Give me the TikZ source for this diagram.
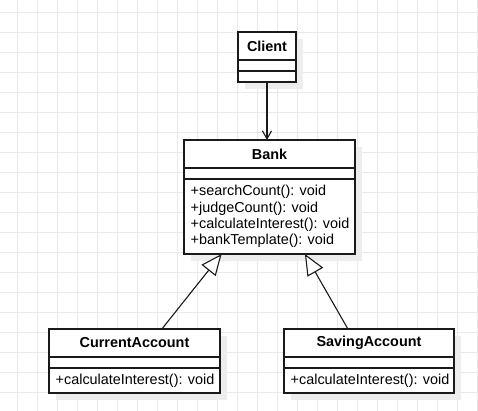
\documentclass[tikz,border=0pt]{standalone}
\usepackage{fontspec}
\setmainfont{Liberation Sans}
\usetikzlibrary{arrows.meta,calc,shadows}
\definecolor{gridgray}{HTML}{E9E9E9}
\definecolor{shadowgray}{HTML}{EDEDED}
\definecolor{linegray}{HTML}{1A1A1A}
\tikzset{
  gridline/.style={draw=gridgray,line width=0.8pt},
  cbox/.style={draw=linegray,fill=white,line width=1.2pt,inner sep=0pt,outer sep=0pt,anchor=north west,
    drop shadow={shadow xshift=7pt,shadow yshift=-7pt,fill=shadowgray,opacity=1}},
  cname/.style={cbox,minimum height=28pt,font=\bfseries\fontsize{14.4}{16.4}\selectfont},
  cpart/.style={cbox,minimum height=11pt},
  ops/.style={anchor=west,inner sep=0pt,align=left,font=\fontsize{14.4}{16.3}\selectfont},
  assoc/.style={-{Straight Barb[length=8pt,width=9pt]},draw=linegray,line width=1.1pt},
  inherit/.style={-{Triangle[open,length=21pt,width=18pt,fill=white]},draw=linegray,line width=1.1pt}
}
\begin{document}
\begin{tikzpicture}[x=1pt,y=-1pt]
\path[use as bounding box,fill=white] (0,0) rectangle (478,411);
\foreach \x in {17,37,...,477} \draw[gridline] (\x,0)--(\x,411);
\foreach \y in {12,32,...,412} \draw[gridline] (0,\y)--(478,\y);
\node[cname,minimum width=58pt] (client) at (238,32) {Client};
\node[cpart,minimum width=58pt] (client-a) at (client.south west) {};
\node[cpart,minimum width=58pt] (client-m) at (client-a.south west) {};
\node[cname,minimum width=171pt] (bank) at (184,140) {Bank};
\node[cpart,minimum width=171pt] (bank-a) at (bank.south west) {};
\node[cpart,minimum width=171pt,minimum height=75pt] (bank-m) at (bank-a.south west) {};
\node[ops] (bank-ops) at ($(bank-m.west)+(6.5,0)$) {+searchCount(): void\\+judgeCount(): void\\+calculateInterest(): void\\+bankTemplate(): void};
\node[cname,minimum width=171pt] (cur) at (49,329) {CurrentAccount};
\node[cpart,minimum width=171pt] (cur-a) at (cur.south west) {};
\node[cpart,minimum width=171pt,minimum height=25pt] (cur-m) at (cur-a.south west) {};
\node[ops] (cur-ops) at ($(cur-m.west)+(6.5,0)$) {+calculateInterest(): void};
\node[cname,minimum width=170pt] (sav) at (284,329) {SavingAccount};
\node[cpart,minimum width=170pt] (sav-a) at (sav.south west) {};
\node[cpart,minimum width=170pt,minimum height=25pt] (sav-m) at (sav-a.south west) {};
\node[ops] (sav-ops) at ($(sav-m.west)+(6.5,0)$) {+calculateInterest(): void};
\draw[assoc] (client-m.south) -- (client-m.south |- bank.north);
\draw[inherit] ($(cur.north west)!0.66!(cur.north east)$) -- ($(bank-m.south west)!0.22!(bank-m.south east)$);
\draw[inherit] ($(sav.north west)!0.376!(sav.north east)$) -- ($(bank-m.south west)!0.707!(bank-m.south east)$);
\end{tikzpicture}
\end{document}
